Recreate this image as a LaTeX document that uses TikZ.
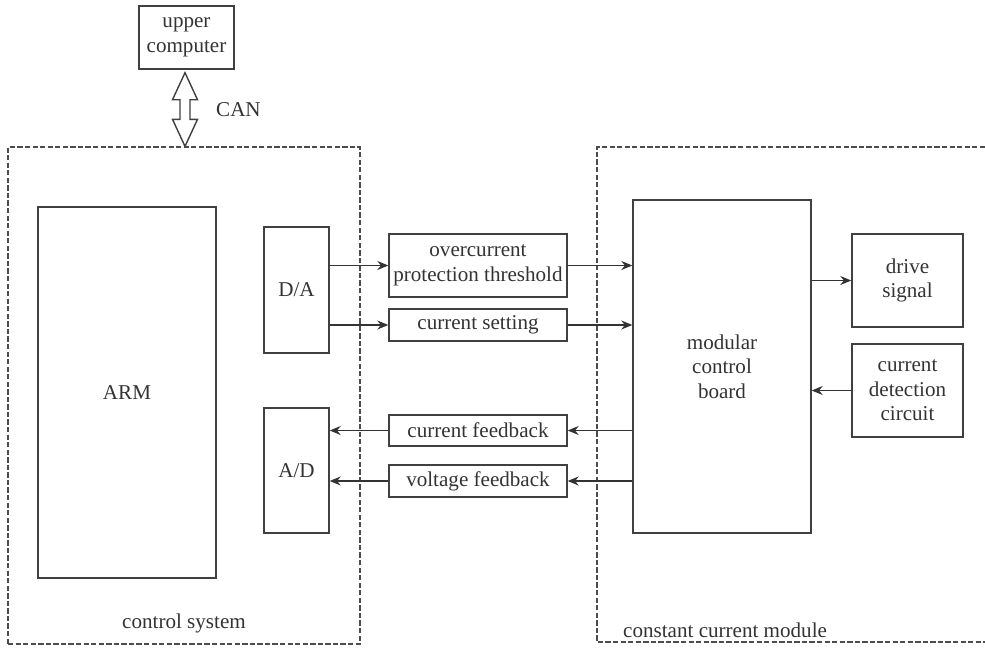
\documentclass[tikz,border=0pt]{standalone}
\usepackage{fontspec}
\setmainfont{Liberation Serif}
\usetikzlibrary{arrows.meta,calc}

\begin{document}
\begin{tikzpicture}[
			x=0.02cm, y=-0.02cm,
			font=\fontsize{12}{14}\selectfont,
			every node/.style={text=black!80},
			block/.style={draw=black!75, line width=0.8pt, align=center, inner sep=0pt},
			region/.style={draw=black!70, line width=0.8pt, dash pattern=on 3pt off 1.3pt},
			signal/.style={draw=black!80, line width=0.8pt, -{Stealth[length=2.2mm,width=1.8mm]}}
			]
			\useasboundingbox (0,0) rectangle (985,647);
			
			% control system side
			\node[region, minimum width=7.04cm, minimum height=9.94cm] (ctrl) at (184,395.5) {};
			\node at (184,623) {control system};
			\node[block, minimum width=1.9cm, minimum height=1.26cm] (upc) at (186.5,37.5) {upper\\computer};
			\node[block, minimum width=3.56cm, minimum height=7.42cm] (arm) at (127,392.5) {ARM};
			\node[block, minimum width=1.3cm, minimum height=2.52cm] (da) at (296.5,290) {D/A};
			\node[block, minimum width=1.3cm, minimum height=2.5cm] (ad) at (296.5,470.5) {A/D};
			
			% signals in between
			\node[block, minimum width=3.56cm, minimum height=1.26cm] (ocp) at (478,265.5) {overcurrent\\protection threshold};
			\node[block, minimum width=3.56cm, minimum height=0.64cm] (cs) at (478,325) {current setting};
			\node[block, minimum width=3.56cm, minimum height=0.62cm] (cf) at (478,430.5) {current feedback};
			\node[block, minimum width=3.56cm, minimum height=0.64cm] (vf) at (478,481) {voltage feedback};
			
			% constant current module side
			\coordinate (ccmtl) at (597,147);
			\coordinate (ccmbl) at (597,642);
			\draw[region] (ccmtl -| 985,0) -- (ccmtl) -- (ccmbl) -- (ccmbl -| 985,0);
			\node[anchor=west] at (617,630) {constant current module};
			\node[block, minimum width=3.56cm, minimum height=6.66cm] (mcb) at (722,366.5) {modular\\control\\board};
			\node[block, minimum width=2.22cm, minimum height=1.86cm] (drive) at (907.5,280.5) {drive\\signal};
			\node[block, minimum width=2.22cm, minimum height=1.86cm] (det) at (907.5,390.5) {current\\detection\\circuit};
			
			% CAN bus
			\coordinate (cantop) at ($(upc.south)+(-1.5,3)$);
			\coordinate (canbot) at (cantop |- ctrl.north);
			\draw[draw=black!75, line width=0.8pt, fill=white]
				(cantop) -- ++(12.5,27) -- ++(-7.5,0) -- ($(canbot)+(5,-27)$) -- ++(7.5,0)
				-- (canbot) -- ++(-12.5,-27) -- ++(7.5,0) -- ($(cantop)+(-5,27)$) -- ++(-7.5,0) -- cycle;
			\node[anchor=west] (can) at ($(cantop)!0.5!(canbot)+(25,0)$) {CAN};
			
			\draw[signal] (da.east |- ocp.west) -- (ocp.west);
			\draw[signal] (da.east |- cs.west) -- (cs.west);
			\draw[signal] (ocp.east) -- (mcb.west |- ocp.east);
			\draw[signal] (cs.east) -- (mcb.west |- cs.east);
			\draw[signal] (mcb.west |- cf.east) -- (cf.east);
			\draw[signal] (mcb.west |- vf.east) -- (vf.east);
			\draw[signal] (cf.west) -- (ad.east |- cf.west);
			\draw[signal] (vf.west) -- (ad.east |- vf.west);
			\draw[signal] (mcb.east |- drive.west) -- (drive.west);
			\draw[signal] (det.west) -- (mcb.east |- det.west);
		\end{tikzpicture}
\end{document}
